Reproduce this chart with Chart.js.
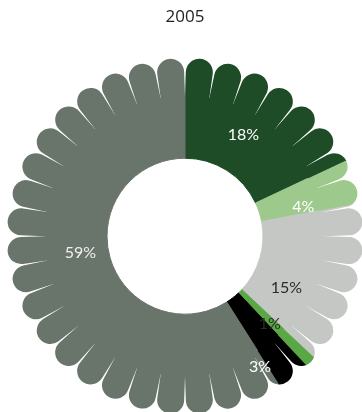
<!DOCTYPE html>
<html>
<head>
<meta charset="utf-8">
<script src="https://cdn.jsdelivr.net/npm/chart.js@4"></script>
<style>
  html, body { margin: 0; padding: 0; background: #fff; }
  #wrap { width: 362px; height: 412px; }
</style>
</head>
<body>
<div id="wrap"><canvas id="js-petalChart"></canvas></div>
<script>
'use strict'

const chartTitle = '2005'
const shares = [18, 4, 15, 1, 3, 59]
const shareLabels = ['18%', '4%', '15%', '1%', '3%', '59%']
const sliceColors = ['#1e4c27', '#9ec98d', '#c4c7c4', '#5aa745', '#000000', '#69746b']
const labelColors = ['#ffffff', '#ffffff', '#2b2b2b', '#2b2b2b', '#ffffff', '#f0f0f0']
// label nudge: degrees from the slice middle, distance from centre
const labelNudge = [[-2.5, 117], [4, 122], [11, 114], [1, 122], [8, 151], [7, 106]]

const LOBES = 36

// one rounded petal, axis along `angle`
const drawLobe = (ctx, cx, cy, angle, r0, rc, cap, half) => {
  ctx.save()
  ctx.translate(cx, cy)
  ctx.rotate(angle)
  const px = r0 * Math.cos(half)
  const py = r0 * Math.sin(half)
  const beta = Math.atan2(py, px - rc)
  const d = Math.hypot(px - rc, py)
  const t = beta - Math.acos(cap / d)
  const rb = r0 - 4
  ctx.beginPath()
  ctx.moveTo(rb * Math.cos(half), -rb * Math.sin(half))
  ctx.lineTo(px, -py)
  ctx.lineTo(rc + cap * Math.cos(-t), cap * Math.sin(-t))
  ctx.arc(rc, 0, cap, -t, t, false)
  ctx.lineTo(px, py)
  ctx.lineTo(rb * Math.cos(half), rb * Math.sin(half))
  ctx.arc(0, 0, rb, half, -half, true)
  ctx.closePath()
  ctx.fill()
  ctx.restore()
}

const petalPlugin = {
  id: 'petals',
  afterDatasetsDraw(chart) {
    const ctx = chart.ctx
    const meta = chart.getDatasetMeta(0)
    const step = Math.PI * 2 / LOBES

    meta.data.forEach((arc, i) => {
      const {x, y, startAngle, endAngle, outerRadius} =
        arc.getProps(['x', 'y', 'startAngle', 'endAngle', 'outerRadius'], true)
      ctx.save()
      ctx.beginPath()
      ctx.moveTo(x, y)
      ctx.arc(x, y, outerRadius + 80, startAngle, endAngle + 0.004)
      ctx.closePath()
      ctx.clip()
      ctx.fillStyle = sliceColors[i]
      for (let k = 0; k < LOBES; k++) {
        const a = -Math.PI / 2 + (k + 0.5) * step
        drawLobe(ctx, x, y, a, outerRadius, outerRadius + 24.5, 13.5, step / 2)
      }
      ctx.restore()
    })

    // percentage labels
    ctx.save()
    ctx.font = '400 16px Lato, "Open Sans", sans-serif'
    ctx.textAlign = 'center'
    ctx.textBaseline = 'middle'
    meta.data.forEach((arc, i) => {
      const {x, y, startAngle, endAngle} =
        arc.getProps(['x', 'y', 'startAngle', 'endAngle'], true)
      const [shift, dist] = labelNudge[i]
      const mid = (startAngle + endAngle) / 2 + shift * Math.PI / 180
      ctx.fillStyle = labelColors[i]
      ctx.fillText(shareLabels[i], x + dist * Math.cos(mid), y + dist * Math.sin(mid))
    })
    ctx.restore()
  }
}

const config = {
  type: 'doughnut',
  data: {
    labels: shareLabels,
    datasets: [{
      data: shares,
      backgroundColor: sliceColors,
      borderColor: sliceColors,
      borderWidth: 1,
    }]
  },
  options: {
    responsive: true,
    maintainAspectRatio: false,
    animation: false,
    radius: 140,
    cutout: '55.7%',
    layout: {
      padding: { top: 0, bottom: 0, left: 8, right: 0 }
    },
    plugins: {
      legend: { display: false },
      tooltip: { enabled: false },
      title: {
        display: true,
        text: chartTitle,
        color: '#222',
        font: { family: '"Open Sans", sans-serif', size: 17, weight: 'normal' },
        padding: { top: 7, bottom: 33 }
      }
    }
  },
  plugins: [petalPlugin]
}

new Chart(document.getElementById('js-petalChart'), config)
</script>
</body>
</html>
